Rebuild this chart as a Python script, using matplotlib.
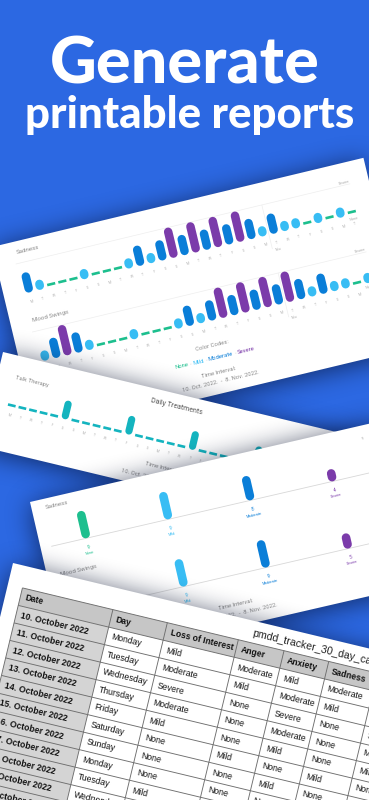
import numpy as np
import matplotlib
matplotlib.use("Agg")
import matplotlib.pyplot as plt
from matplotlib.transforms import Affine2D
from matplotlib.patches import Rectangle
from matplotlib.path import Path

# ---------------- data ----------------
LEVELS = ["None", "Mild", "Moderate", "Severe"]
LEVEL_COLORS = ["#1DBF8E", "#38BDF4", "#0A7ED8", "#7B3BAA"]
WEEKDAYS = ["M", "T", "W", "T", "F", "S", "S"]
MONTH_LABEL = "Nov"
MONTH_START = 22

# daily symptom level, 10 Oct 2022 .. 8 Nov 2022 (0 None, 1 Mild, 2 Moderate, 3 Severe)
sadness = [2, 1, 0, 0, 0, 1, 0, 0, 0, 1, 2, 1, 2, 3, 2, 3, 2, 3, 2, 3,
           2, 1, 2, 1, 1, 0, 1, 0, 1, 0]
mood_swings = [1, 2, 3, 2, 1, 0, 0, 0, 1, 0, 0, 0, 1, 2, 1, 2, 3, 2, 3, 2,
               3, 2, 3, 2, 1, 2, 1, 1, 0, 1]
talk_therapy = [0, 0, 0, 0, 0, 1, 0, 0, 0, 0, 0, 1, 0, 0, 0, 0, 0, 1, 0, 0,
                0, 0, 0, 1, 0, 0, 0, 0, 0, 0]

TIME_INTERVAL = "10. Oct. 2022.  -  8. Nov. 2022."

table_title = "pmdd_tracker_30_day_calendar"
table_header = ["Date", "Day", "Loss of Interest", "Anger", "Anxiety", "Sadness", "Mood Swings"]
table_dates = ["10. October 2022", "11. October 2022", "12. October 2022", "13. October 2022",
               "14. October 2022", "15. October 2022", "16. October 2022", "17. October 2022",
               "18. October 2022", "19. October 2022", "20. October 2022", "21. October 2022"]
table_days = ["Monday", "Tuesday", "Wednesday", "Thursday", "Friday", "Saturday", "Sunday",
              "Monday", "Tuesday", "Wednesday", "Thursday", "Friday"]
table_loss = ["Mild", "Moderate", "Severe", "Moderate", "Mild", "None", "None", "None",
              "Mild", "None", "Mild", "None"]
table_anger = ["Moderate", "Mild", "None", "None", "None", "Mild", "None", "None",
               "None", "Mild", "None", "None"]
table_anxiety = ["Mild", "Moderate", "Severe", "Moderate", "Mild", "None", "Mild", "None",
                 "Mild", "None", "None", "Mild"]

# ---------------- style ----------------
BG = "#2C68E2"
CARD_FONT = ["Roboto", "DejaVu Sans"]
TABLE_FONT = ["Liberation Sans", "DejaVu Sans"]
TITLE_FONT = ["Lato", "Roboto", "DejaVu Sans"]
GRAY = "#8C8C8C"
LIGHT = "#ABABAB"
TEAL = "#14B4BF"

W, H = 369, 800
fig = plt.figure(figsize=(W / 100, H / 100), dpi=100)
fig.patch.set_facecolor(BG)
ax = fig.add_axes([0, 0, 1, 1])
ax.set_facecolor(BG)
ax.set_xlim(0, W)
ax.set_ylim(H, 0)
ax.set_autoscale_on(False)
ax.axis("off")
renderer = fig.canvas.get_renderer()


def card_tf(x0, y0, ang):
    """Local card pixels (u right, v down) -> figure pixels; ang > 0 rises to the right."""
    return Affine2D().rotate_deg(-ang).translate(x0, y0)


def box_blur(a, r, axis):
    a = np.moveaxis(a, axis, 0)
    pad = [(r + 1, r)] + [(0, 0)] * (a.ndim - 1)
    c = np.cumsum(np.pad(a, pad, mode="edge"), axis=0)
    out = (c[2 * r + 1:] - c[:-2 * r - 1]) / (2 * r + 1)
    return np.moveaxis(out, 0, axis)


def drop_shadow(tf, w, h, z, r=12, strength=0.68, dy=3):
    pad = 60
    corners = tf.transform([[0, 0], [w, 0], [w, h], [0, h]]) + [0, dy]
    xs = np.arange(-pad, W + pad) + 0.5
    ys = np.arange(-pad, H + pad) + 0.5
    gx, gy = np.meshgrid(xs, ys)
    m = Path(corners).contains_points(np.c_[gx.ravel(), gy.ravel()]).reshape(gx.shape)
    m = m.astype(float)
    for _ in range(3):
        m = box_blur(m, r, 0)
        m = box_blur(m, r, 1)
    m = m[pad:pad + H, pad:pad + W]
    img = np.zeros((H, W, 4))
    img[..., 0] = 0.02
    img[..., 1] = 0.06
    img[..., 2] = 0.18
    img[..., 3] = np.clip(m * strength, 0, 1)
    ax.imshow(img, extent=(0, W, H, 0), zorder=z, interpolation="bilinear", aspect="auto")


def paper(tf, w, h, z):
    ax.add_patch(Rectangle((0, 0), w, h, transform=tf + ax.transData,
                           facecolor="white", edgecolor="none", zorder=z))


def put(T, ang, u, v, s, size, color, z, ha="left", va="center", weight="normal", family=None):
    ax.text(u, v, s, transform=T, rotation=ang, rotation_mode="anchor", ha=ha, va=va,
            fontsize=size, color=color, fontweight=weight,
            family=family or CARD_FONT, zorder=z)


def text_width(s, size, family=None, weight="normal"):
    t = ax.text(0, 0, s, fontsize=size, family=family or CARD_FONT, fontweight=weight)
    w = t.get_window_extent(renderer).width
    t.remove()
    return w


def colored_line(T, ang, uc, v, pieces, size, z):
    widths = [text_width(s, size) for s, _ in pieces]
    u = uc - sum(widths) / 2
    for (s, c), wdt in zip(pieces, widths):
        put(T, ang, u, v, s, size, c, z)
        u += wdt


def level_row(T, ang, z, values, name, x0, dx, base, unit, right_u, bar_px=8.5):
    vals = np.asarray(values)
    idx = np.arange(len(vals))
    Tc = Affine2D().scale(dx, -unit).translate(x0, base) + T
    # faint guides
    ax.hlines(3, -0.6, (right_u - x0) / dx, transform=Tc, colors="#EEEEEE", linewidth=0.5, zorder=z)
    ax.vlines(MONTH_START - 0.5, -1.4, 3, transform=Tc, colors="#EEEEEE", linewidth=0.5, zorder=z)
    r = bar_px / 2 / unit
    for lvl in (1, 2, 3):
        m = vals == lvl
        ax.vlines(idx[m], r, vals[m] - r, transform=Tc, colors=LEVEL_COLORS[lvl],
                  linewidth=bar_px * 0.72, capstyle="round", zorder=z + 1)
    m0 = vals == 0
    ax.hlines(np.full(m0.sum(), 0.3), idx[m0] - 0.36, idx[m0] + 0.36, transform=Tc,
              colors=LEVEL_COLORS[0], linewidth=1.9, zorder=z + 1)
    put(T, ang, 22, base - 42, name, 4.4, GRAY, z + 1)
    put(T, ang, right_u, base - 33, LEVELS[3], 2.8, LIGHT, z + 1, ha="right")
    put(T, ang, right_u, base + 4, LEVELS[0], 2.8, LIGHT, z + 1, ha="right")
    for i in idx:
        put(T, ang, x0 + i * dx, base + 9, WEEKDAYS[i % 7], 2.3, LIGHT, z + 1, ha="center")
    put(T, ang, x0 + MONTH_START * dx, base + 16, MONTH_LABEL, 2.6, LIGHT, z + 1, ha="center")


# ---------------- title ----------------
for s, xc, yb, target in [("Generate", 185, 83, 270), ("printable reports", 190, 128, 330)]:
    t = ax.text(xc, yb, s, ha="center", va="baseline", fontsize=40, fontweight="black",
                family=TITLE_FONT, color="white", zorder=2)
    t.set_fontsize(40 * target / t.get_window_extent(renderer).width)

# ---------------- card 1: daily levels ----------------
a1 = 13.5
tf1 = card_tf(-8, 247, a1)
T1 = tf1 + ax.transData
drop_shadow(tf1, 382, 196, 10)
paper(tf1, 382, 196, 11)
level_row(T1, a1, 12, sadness, "Sadness", 26, 11.45, 53, 10.3, 363)
level_row(T1, a1, 12, mood_swings, "Mood Swings", 26, 11.45, 123, 10.3, 363)
put(T1, a1, 191, 147, "Color Codes:", 4.2, GRAY, 13, ha="center")
sep = (" · ", GRAY)
colored_line(T1, a1, 191, 160,
             [(LEVELS[0], LEVEL_COLORS[0]), sep, (LEVELS[1], LEVEL_COLORS[1]), sep,
              (LEVELS[2], LEVEL_COLORS[2]), sep, (LEVELS[3], LEVEL_COLORS[3])], 4.2, 13)
put(T1, a1, 191, 175, "Time Interval:", 4.2, GRAY, 13, ha="center")
put(T1, a1, 191, 184, TIME_INTERVAL, 4.2, GRAY, 13, ha="center")

# ---------------- card 2: daily treatments ----------------
a2 = -13.5
tf2 = card_tf(3, 352, a2)
T2 = tf2 + ax.transData
drop_shadow(tf2, 372, 97, 20)
paper(tf2, 372, 97, 21)
put(T2, a2, 182, 13, "Daily Treatments", 5.0, "#555555", 23, ha="center")
put(T2, a2, 18, 22, "Talk Therapy", 4.2, GRAY, 23)
tt = np.asarray(talk_therapy)
ti = np.arange(len(tt))
x0t, dxt, bt, ut = 21, 10.9, 51, 19
Tt = Affine2D().scale(dxt, -ut).translate(x0t, bt) + T2
r2 = 3.6 / ut
ax.vlines(ti[tt == 1], r2, tt[tt == 1] - r2, transform=Tt, colors=TEAL,
          linewidth=7.2 * 0.72, capstyle="round", zorder=23)
ax.hlines(np.full((tt == 0).sum(), 0.06), ti[tt == 0] - 0.36, ti[tt == 0] + 0.36,
          transform=Tt, colors=TEAL, linewidth=1.9, zorder=23)
for i in ti:
    put(T2, a2, x0t + i * dxt, 60, WEEKDAYS[i % 7], 2.3, LIGHT, 23, ha="center")
put(T2, a2, 182, 75, "Time Interval:", 4.2, GRAY, 23, ha="center")
put(T2, a2, 182, 88, TIME_INTERVAL, 4.2, GRAY, 23, ha="center")

# ---------------- card 3: totals per level ----------------
a3 = 13.0
tf3 = card_tf(30, 502, a3)
T3 = tf3 + ax.transData
drop_shadow(tf3, 365, 168, 30)
paper(tf3, 365, 168, 31)
put(T3, a3, 338, 13, "9", 2.6, LIGHT, 33, ha="center")
for series, name, base in [(sadness, "Sadness", 48), (mood_swings, "Mood Swings", 117)]:
    counts = np.bincount(np.asarray(series), minlength=4)
    Tb = Affine2D().scale(84.3, -3.1).translate(47, base) + T3
    ax.hlines(0, -0.43, 3.7, transform=Tb, colors="#D8D8D8", linewidth=0.6, zorder=32)
    rb = 4.3 / 3.1
    for k in range(4):
        ax.vlines(k, rb, counts[k] - rb, transform=Tb, colors=LEVEL_COLORS[k],
                  linewidth=8.6 * 0.72, capstyle="round", zorder=33)
        put(T3, a3, 47 + 84.3 * k, base + 9, str(counts[k]), 3.4, LEVEL_COLORS[k], 33, ha="center")
        put(T3, a3, 47 + 84.3 * k, base + 15, LEVELS[k], 2.7, LEVEL_COLORS[k], 33, ha="center")
    put(T3, a3, 13.5, base - 39, name, 4.4, GRAY, 33)
put(T3, a3, 178, 146, "Time Interval:", 4.2, GRAY, 33, ha="center")
put(T3, a3, 178, 156, TIME_INTERVAL, 4.2, GRAY, 33, ha="center")

# ---------------- card 4: exported table ----------------
a4 = -13.5
tf4 = card_tf(13, 563, a4)
T4 = tf4 + ax.transData
drop_shadow(tf4, 470, 320, 40)
paper(tf4, 470, 320, 41)
put(T4, a4, 249, 12, table_title, 7.6, "#222222", 43, family=TABLE_FONT)

col_edges = [15, 108, 164, 237, 284, 330, 380, 445]
head_top, head_bot, row_h = 22, 40, 18
n_rows = len(table_dates)
bottom = head_bot + n_rows * row_h
ax.add_patch(Rectangle((col_edges[0], head_top), col_edges[-1] - col_edges[0], head_bot - head_top,
                       transform=T4, facecolor="#C6C6C6", edgecolor="none", zorder=42))
ax.add_patch(Rectangle((col_edges[0], head_bot), col_edges[1] - col_edges[0], bottom - head_bot,
                       transform=T4, facecolor="#D4D4D4", edgecolor="none", zorder=42))
ax.hlines([head_top] + [head_bot + k * row_h for k in range(n_rows + 1)],
          col_edges[0], col_edges[-1], transform=T4, colors="#6E6E6E", linewidth=0.65, zorder=43)
ax.vlines(col_edges, head_top, bottom, transform=T4, colors="#6E6E6E", linewidth=0.65, zorder=43)

columns = [table_dates, table_days, table_loss, table_anger, table_anxiety,
           [LEVELS[v] for v in sadness[:n_rows]], [LEVELS[v] for v in mood_swings[:n_rows]]]
for c, head in enumerate(table_header):
    put(T4, a4, col_edges[c] + 5, (head_top + head_bot) / 2, head, 6.2, "#111111", 44,
        weight="bold", family=TABLE_FONT)
    for rrow, val in enumerate(columns[c]):
        put(T4, a4, col_edges[c] + 5, head_bot + row_h * (rrow + 0.5), val, 6.2, "#111111", 44,
            weight="bold" if c == 0 else "normal", family=TABLE_FONT)

ax.set_xlim(0, W)
ax.set_ylim(H, 0)
fig.savefig("out.png", dpi=100, facecolor=fig.get_facecolor())
